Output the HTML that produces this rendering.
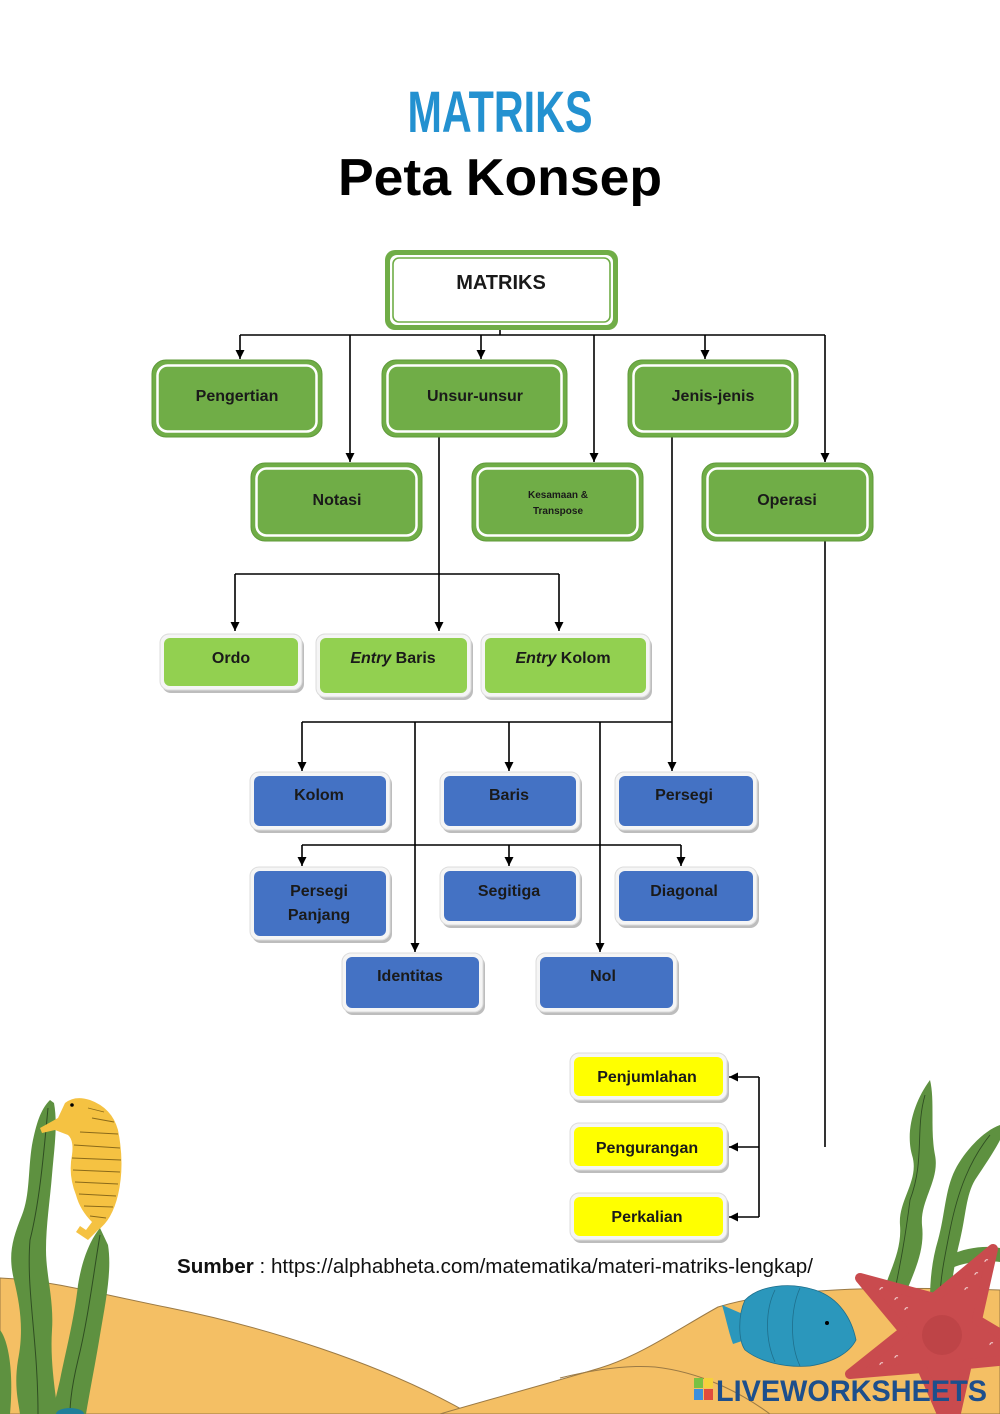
<!DOCTYPE html>
<html>
<head>
<meta charset="utf-8">
<style>
  html,body{margin:0;padding:0;background:#fff;}
  svg{display:block;}
  text{font-family:"Liberation Sans", Arial, sans-serif;}
  .lb{font-weight:bold;font-size:16px;fill:#1a1a1a;text-anchor:middle;}
</style>
</head>
<body>
<svg width="1000" height="1414" viewBox="0 0 1000 1414" xmlns="http://www.w3.org/2000/svg">
  <defs>
    <marker id="ah" viewBox="0 0 10 10" markerWidth="9" markerHeight="10" refX="10" refY="5" orient="auto" markerUnits="userSpaceOnUse">
      <path d="M0,0 L10,5 L0,10 z" fill="#000"/>
    </marker>
  </defs>
  <rect x="0" y="0" width="1000" height="1414" fill="#fff"/>

  <!-- Titles -->
  <text x="500" y="132" text-anchor="middle" font-size="58" font-weight="bold" fill="#2391D0" textLength="185" lengthAdjust="spacingAndGlyphs">MATRIKS</text>
  <text x="500" y="195" text-anchor="middle" font-size="52" font-weight="bold" fill="#000" textLength="324" lengthAdjust="spacingAndGlyphs">Peta Konsep</text>

  <!-- ===== Connectors ===== -->
  <g stroke="#000" stroke-width="1.6" fill="none">
    <path d="M500,329 V335"/>
    <path d="M240,335 H825"/>
    <path d="M240,335 V359" marker-end="url(#ah)"/>
    <path d="M350,335 V462" marker-end="url(#ah)"/>
    <path d="M481,335 V359" marker-end="url(#ah)"/>
    <path d="M594,335 V462" marker-end="url(#ah)"/>
    <path d="M705,335 V359" marker-end="url(#ah)"/>
    <path d="M825,335 V462" marker-end="url(#ah)"/>

    <path d="M439,437 V631" marker-end="url(#ah)"/>
    <path d="M235,574 H559"/>
    <path d="M235,574 V631" marker-end="url(#ah)"/>
    <path d="M559,574 V631" marker-end="url(#ah)"/>

    <path d="M672,437 V771" marker-end="url(#ah)"/>
    <path d="M302,722 H672"/>
    <path d="M302,722 V771" marker-end="url(#ah)"/>
    <path d="M509,722 V771" marker-end="url(#ah)"/>
    <path d="M415,722 V952" marker-end="url(#ah)"/>
    <path d="M600,722 V952" marker-end="url(#ah)"/>

    <path d="M302,845 H681"/>
    <path d="M302,845 V866" marker-end="url(#ah)"/>
    <path d="M509,845 V866" marker-end="url(#ah)"/>
    <path d="M681,845 V866" marker-end="url(#ah)"/>

    <path d="M825,541 V1147"/>

    <path d="M759,1077 V1217"/>
    <path d="M759,1077 H729" marker-end="url(#ah)"/>
    <path d="M759,1147 H729" marker-end="url(#ah)"/>
    <path d="M759,1217 H729" marker-end="url(#ah)"/>
  </g>

  <!-- ===== MATRIKS box ===== -->
  <rect x="385" y="250" width="233" height="80" rx="10" fill="#70AD47"/>
  <rect x="390" y="255" width="223" height="70" rx="7" fill="#fff"/>
  <rect x="393" y="258" width="217" height="64" rx="6" fill="#fff" stroke="#70AD47" stroke-width="1.6"/>
  <text x="501" y="289" class="lb" style="font-size:20px">MATRIKS</text>

  <!-- ===== Dark green boxes ===== -->
  <g>
    <rect x="152" y="360" width="170" height="77" rx="14" fill="#70AD47" stroke="#5f9a3a"/>
    <rect x="157.5" y="365.5" width="159" height="66" rx="10" fill="none" stroke="#fff" stroke-width="2.5"/>
    <rect x="382" y="360" width="185" height="77" rx="14" fill="#70AD47" stroke="#5f9a3a"/>
    <rect x="387.5" y="365.5" width="174" height="66" rx="10" fill="none" stroke="#fff" stroke-width="2.5"/>
    <rect x="628" y="360" width="170" height="77" rx="14" fill="#70AD47" stroke="#5f9a3a"/>
    <rect x="633.5" y="365.5" width="159" height="66" rx="10" fill="none" stroke="#fff" stroke-width="2.5"/>

    <rect x="251" y="463" width="171" height="78" rx="14" fill="#70AD47" stroke="#5f9a3a"/>
    <rect x="256.5" y="468.5" width="160" height="67" rx="10" fill="none" stroke="#fff" stroke-width="2.5"/>
    <rect x="472" y="463" width="171" height="78" rx="14" fill="#70AD47" stroke="#5f9a3a"/>
    <rect x="477.5" y="468.5" width="160" height="67" rx="10" fill="none" stroke="#fff" stroke-width="2.5"/>
    <rect x="702" y="463" width="171" height="78" rx="14" fill="#70AD47" stroke="#5f9a3a"/>
    <rect x="707.5" y="468.5" width="160" height="67" rx="10" fill="none" stroke="#fff" stroke-width="2.5"/>
  </g>
  <text x="237" y="401" class="lb">Pengertian</text>
  <text x="475" y="401" class="lb">Unsur-unsur</text>
  <text x="713" y="401" class="lb">Jenis-jenis</text>
  <text x="337" y="505" class="lb">Notasi</text>
  <text x="558" y="498" class="lb" style="font-size:10px">Kesamaan &amp;</text>
  <text x="558" y="514" class="lb" style="font-size:10px">Transpose</text>
  <text x="787" y="505" class="lb">Operasi</text>

  <!-- ===== Light green boxes ===== -->
  <g>
    <rect x="162" y="637" width="142" height="56" rx="9" fill="#bdbdbd"/>
    <rect x="160" y="634" width="142" height="56" rx="9" fill="#f5f5f5" stroke="#dcdcdc"/>
    <rect x="164" y="638" width="134" height="48" rx="6" fill="#92D050"/>
    <rect x="318" y="637" width="155" height="63" rx="9" fill="#bdbdbd"/>
    <rect x="316" y="634" width="155" height="63" rx="9" fill="#f5f5f5" stroke="#dcdcdc"/>
    <rect x="320" y="638" width="147" height="55" rx="6" fill="#92D050"/>
    <rect x="483" y="637" width="169" height="63" rx="9" fill="#bdbdbd"/>
    <rect x="481" y="634" width="169" height="63" rx="9" fill="#f5f5f5" stroke="#dcdcdc"/>
    <rect x="485" y="638" width="161" height="55" rx="6" fill="#92D050"/>
  </g>
  <text x="231" y="663" class="lb">Ordo</text>
  <text x="393" y="663" class="lb"><tspan font-style="italic">Entry</tspan> Baris</text>
  <text x="563" y="663" class="lb"><tspan font-style="italic">Entry</tspan> Kolom</text>

  <!-- ===== Blue boxes ===== -->
  <g>
    <rect x="252" y="775" width="140" height="58" rx="9" fill="#bdbdbd"/>
    <rect x="250" y="772" width="140" height="58" rx="9" fill="#f5f5f5" stroke="#dcdcdc"/>
    <rect x="254" y="776" width="132" height="50" rx="6" fill="#4472C4"/>
    <rect x="442" y="775" width="140" height="58" rx="9" fill="#bdbdbd"/>
    <rect x="440" y="772" width="140" height="58" rx="9" fill="#f5f5f5" stroke="#dcdcdc"/>
    <rect x="444" y="776" width="132" height="50" rx="6" fill="#4472C4"/>
    <rect x="617" y="775" width="142" height="58" rx="9" fill="#bdbdbd"/>
    <rect x="615" y="772" width="142" height="58" rx="9" fill="#f5f5f5" stroke="#dcdcdc"/>
    <rect x="619" y="776" width="134" height="50" rx="6" fill="#4472C4"/>

    <rect x="252" y="870" width="140" height="73" rx="9" fill="#bdbdbd"/>
    <rect x="250" y="867" width="140" height="73" rx="9" fill="#f5f5f5" stroke="#dcdcdc"/>
    <rect x="254" y="871" width="132" height="65" rx="6" fill="#4472C4"/>
    <rect x="442" y="870" width="140" height="58" rx="9" fill="#bdbdbd"/>
    <rect x="440" y="867" width="140" height="58" rx="9" fill="#f5f5f5" stroke="#dcdcdc"/>
    <rect x="444" y="871" width="132" height="50" rx="6" fill="#4472C4"/>
    <rect x="617" y="870" width="142" height="58" rx="9" fill="#bdbdbd"/>
    <rect x="615" y="867" width="142" height="58" rx="9" fill="#f5f5f5" stroke="#dcdcdc"/>
    <rect x="619" y="871" width="134" height="50" rx="6" fill="#4472C4"/>

    <rect x="344" y="956" width="141" height="59" rx="9" fill="#bdbdbd"/>
    <rect x="342" y="953" width="141" height="59" rx="9" fill="#f5f5f5" stroke="#dcdcdc"/>
    <rect x="346" y="957" width="133" height="51" rx="6" fill="#4472C4"/>
    <rect x="538" y="956" width="141" height="59" rx="9" fill="#bdbdbd"/>
    <rect x="536" y="953" width="141" height="59" rx="9" fill="#f5f5f5" stroke="#dcdcdc"/>
    <rect x="540" y="957" width="133" height="51" rx="6" fill="#4472C4"/>
  </g>
  <text x="319" y="800" class="lb">Kolom</text>
  <text x="509" y="800" class="lb">Baris</text>
  <text x="684" y="800" class="lb">Persegi</text>
  <text x="319" y="896" class="lb">Persegi</text>
  <text x="319" y="920" class="lb">Panjang</text>
  <text x="509" y="896" class="lb">Segitiga</text>
  <text x="684" y="896" class="lb">Diagonal</text>
  <text x="410" y="981" class="lb">Identitas</text>
  <text x="603" y="981" class="lb">Nol</text>

  <!-- ===== Yellow boxes ===== -->
  <g>
    <rect x="572" y="1056" width="157" height="47" rx="9" fill="#bdbdbd"/>
    <rect x="570" y="1053" width="157" height="47" rx="9" fill="#f5f5f5" stroke="#dcdcdc"/>
    <rect x="574" y="1057" width="149" height="39" rx="6" fill="#FFFF00"/>
    <rect x="572" y="1126" width="157" height="47" rx="9" fill="#bdbdbd"/>
    <rect x="570" y="1123" width="157" height="47" rx="9" fill="#f5f5f5" stroke="#dcdcdc"/>
    <rect x="574" y="1127" width="149" height="39" rx="6" fill="#FFFF00"/>
    <rect x="572" y="1196" width="157" height="47" rx="9" fill="#bdbdbd"/>
    <rect x="570" y="1193" width="157" height="47" rx="9" fill="#f5f5f5" stroke="#dcdcdc"/>
    <rect x="574" y="1197" width="149" height="39" rx="6" fill="#FFFF00"/>
  </g>
  <text x="647" y="1082" class="lb">Penjumlahan</text>
  <text x="647" y="1153" class="lb">Pengurangan</text>
  <text x="647" y="1222" class="lb">Perkalian</text>

  <!-- ===== Bottom decoration ===== -->
  <path d="M0,1278 C50,1280 100,1294 170,1308 C260,1326 380,1362 470,1414 L0,1414 Z" fill="#F4BF64" stroke="#9b7a45" stroke-width="1"/>
  <path d="M440,1414 C480,1402 540,1386 600,1368 C640,1356 680,1328 718,1307 C780,1288 880,1286 1000,1290 L1000,1414 Z" fill="#F4BF64" stroke="#9b7a45" stroke-width="1"/>
  <path d="M560,1378 C600,1368 630,1365 655,1367 C700,1372 740,1392 770,1414" fill="none" stroke="#9b7a45" stroke-width="1"/>

  <!-- left seaweed -->
  <path d="M50,1100 C40,1110 36,1125 32,1145 C28,1170 30,1195 22,1215 C12,1240 8,1255 14,1280 C20,1305 24,1330 18,1360 C14,1385 18,1400 20,1414 L58,1414 C55,1390 50,1360 52,1330 C54,1300 46,1275 46,1250 C46,1225 50,1200 52,1175 C54,1150 58,1125 54,1103 Z" fill="#5E9140"/>
  <path d="M48,1108 C44,1150 40,1200 30,1240 C26,1290 38,1340 38,1414" fill="none" stroke="#2f4d22" stroke-width="1"/>
  <path d="M100,1228 C90,1240 82,1260 78,1285 C74,1320 66,1350 60,1380 L52,1414 L86,1414 C90,1390 96,1360 100,1335 C106,1300 112,1270 108,1245 Z" fill="#5E9140"/>
  <path d="M100,1235 C94,1270 88,1320 78,1360 C72,1385 70,1400 70,1414" fill="none" stroke="#2f4d22" stroke-width="1"/>
  <path d="M0,1330 C8,1340 14,1370 10,1414 L0,1414 Z" fill="#5E9140"/>
  <ellipse cx="70" cy="1414" rx="14" ry="6" fill="#1f7f9a"/>

  <!-- seahorse -->
  <path d="M40,1128 L58,1118 L65,1103 Q75,1095 90,1100 Q112,1108 118,1130 Q125,1165 118,1195 Q112,1220 98,1230 L88,1240 L76,1232 L80,1226 L86,1230 L92,1222 Q80,1210 76,1195 Q68,1175 72,1155 Q74,1140 68,1135 L55,1130 L42,1133 Z" fill="#F5C242"/>
  <g stroke="#8a6a1a" stroke-width="0.9" fill="none">
    <path d="M88,1108 L104,1112"/><path d="M92,1118 L114,1122"/><path d="M80,1132 L118,1134"/>
    <path d="M74,1145 L120,1148"/><path d="M72,1158 L121,1160"/><path d="M73,1170 L120,1172"/>
    <path d="M75,1182 L118,1184"/><path d="M79,1194 L116,1196"/><path d="M84,1206 L113,1207"/>
    <path d="M90,1216 L106,1218"/>
  </g>
  <circle cx="72" cy="1105" r="1.8" fill="#000"/>

  <!-- right seaweed -->
  <path d="M930,1080 C915,1100 905,1130 912,1155 C920,1180 898,1200 900,1225 C902,1250 890,1270 884,1290 L905,1295 C915,1270 925,1250 922,1225 C920,1200 940,1180 935,1155 C930,1130 935,1100 930,1080 Z" fill="#5E9140"/>
  <path d="M1000,1125 C985,1130 965,1150 955,1170 C945,1190 945,1215 938,1240 C932,1260 930,1280 930,1300 L950,1300 C952,1280 955,1260 960,1240 C966,1215 966,1195 975,1180 C985,1165 995,1150 1000,1140 Z" fill="#5E9140"/>
  <path d="M950,1255 C965,1248 985,1245 1000,1248 L1000,1262 C985,1260 965,1262 952,1268 Z" fill="#5E9140"/>
  <g stroke="#2f4d22" stroke-width="0.9" fill="none">
    <path d="M925,1095 C915,1130 925,1160 910,1200 C905,1240 900,1265 895,1290"/>
    <path d="M990,1135 C970,1160 958,1190 950,1230 C944,1260 940,1280 940,1300"/>
  </g>

  <!-- fish -->
  <path d="M745,1315 L722,1305 C726,1318 728,1330 733,1344 L745,1340 Z" fill="#2B97BC"/>
  <path d="M745,1300 C760,1285 790,1282 815,1290 C840,1298 852,1320 856,1340 C850,1352 835,1362 810,1366 C785,1368 760,1362 745,1350 C738,1340 738,1315 745,1300 Z" fill="#2B97BC" stroke="#1f6f8c" stroke-width="0.8"/>
  <g stroke="#1f6f8c" stroke-width="0.8" fill="none">
    <path d="M775,1290 C765,1310 765,1340 775,1362"/>
    <path d="M800,1288 C790,1310 790,1345 800,1366"/>
  </g>
  <circle cx="827" cy="1323" r="2" fill="#000"/>

  <!-- starfish -->
  <polygon points="860,1278 934,1298 993,1249 977,1320 1039,1357 967,1364 951,1435 922,1368 850,1374 904,1331" fill="#C94B4E" stroke="#C94B4E" stroke-width="10" stroke-linejoin="round"/>
  <circle cx="942" cy="1335" r="20" fill="#BE4447"/>
  <g fill="none" stroke="#f3d0d0" stroke-width="1">
    <path d="M880,1290 a2,2 0 0 1 3,-2"/><path d="M895,1300 a2,2 0 0 1 3,-2"/><path d="M905,1310 a2,2 0 0 1 3,-2"/>
    <path d="M975,1275 a2,2 0 0 1 3,-2"/><path d="M985,1262 a2,2 0 0 1 3,-2"/><path d="M965,1290 a2,2 0 0 1 3,-2"/>
    <path d="M880,1365 a2,2 0 0 1 3,-2"/><path d="M895,1358 a2,2 0 0 1 3,-2"/><path d="M990,1345 a2,2 0 0 1 3,-2"/>
  </g>

  <!-- liveworksheets logo -->
  <rect x="694" y="1378" width="9" height="10" fill="#7AC143"/>
  <rect x="704" y="1378" width="9" height="10" fill="#F6D13B"/>
  <rect x="694" y="1389" width="9" height="11" fill="#3C8FDD"/>
  <rect x="704" y="1389" width="9" height="11" fill="#E04B3C"/>
  <text x="716" y="1401" font-size="30" font-weight="bold" fill="#1D4F8C" textLength="271" lengthAdjust="spacingAndGlyphs">LIVEWORKSHEETS</text>

  <!-- Source -->
  <text x="177" y="1273" font-size="20.5" fill="#111" textLength="636" lengthAdjust="spacingAndGlyphs"><tspan font-weight="bold">Sumber</tspan> : https://alphabheta.com/matematika/materi-matriks-lengkap/</text>
</svg>
</body>
</html>
